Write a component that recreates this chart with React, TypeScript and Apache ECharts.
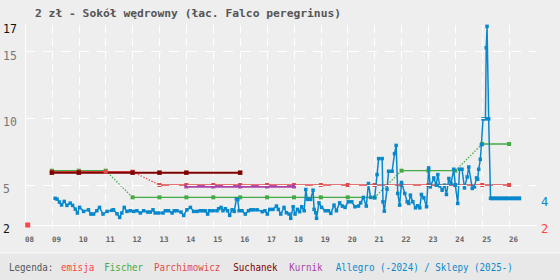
import React, { useEffect, useRef } from "react";
import * as echarts from "echarts";

// ---------- data ----------
const emisjaYears = [2008.1];
const emisjaValues = [2];

const fischerYears = [2009, 2010, 2011, 2012, 2013, 2014, 2015, 2016, 2017, 2018, 2019, 2020, 2021, 2022, 2023, 2024, 2025, 2026];
const fischerValues = [6, 6, 6, 4, 4, 4, 4, 4, 4, 4, 4, 4, 4, 6, 6, 6, 8, 8];

const parchYears = [2009, 2010, 2011, 2012, 2013, 2014, 2015, 2016, 2017, 2018, 2019, 2020, 2021, 2022, 2023, 2024, 2025, 2026];
const parchValues = [6, 6, 6, 6, 5, 5, 5, 5, 5, 5, 5, 5, 5, 5, 5, 5, 5, 5];

const suchanekYears = [2009, 2010, 2012, 2013, 2014, 2016];
const suchanekValues = [6, 6, 6, 6, 6, 6];

const kurnikYears = [2014, 2015, 2016, 2017, 2018];
const kurnikValues = [5, 5, 5, 5, 5];

const allegroYears = [
  2009.12, 2009.19, 2009.28, 2009.36, 2009.46, 2009.56, 2009.68, 2009.77, 2009.87, 2009.95,
  2010.03, 2010.18, 2010.36, 2010.45, 2010.55, 2010.67, 2010.77, 2010.9, 2011.05, 2011.23,
  2011.29, 2011.42, 2011.52, 2011.6, 2011.69, 2011.79, 2011.91, 2012.04, 2012.16, 2012.29,
  2012.41, 2012.56, 2012.66, 2012.76, 2012.84, 2012.97, 2013.13, 2013.22, 2013.34, 2013.47,
  2013.55, 2013.65, 2013.8, 2013.9, 2014.02, 2014.15, 2014.27, 2014.4, 2014.52, 2014.62,
  2014.7, 2014.79, 2014.86, 2014.99, 2015.14, 2015.2, 2015.29, 2015.36, 2015.45, 2015.53,
  2015.61, 2015.7, 2015.78, 2015.86, 2015.91, 2015.96, 2016.07, 2016.19, 2016.31, 2016.4,
  2016.5, 2016.63, 2016.82, 2016.92, 2017.01, 2017.1, 2017.22, 2017.35, 2017.42, 2017.51,
  2017.63, 2017.72, 2017.82, 2017.88, 2017.97, 2018.04, 2018.13, 2018.21, 2018.29, 2018.38,
  2018.44, 2018.5, 2018.62, 2018.71, 2018.75, 2018.81, 2018.84, 2018.93, 2019.03, 2019.16,
  2019.28, 2019.37, 2019.49, 2019.58, 2019.7, 2019.8, 2019.9, 2020.02, 2020.15, 2020.27,
  2020.4, 2020.48, 2020.58, 2020.69, 2020.77, 2020.85, 2021.0, 2021.09, 2021.15, 2021.28,
  2021.31, 2021.36, 2021.46, 2021.52, 2021.65, 2021.74, 2021.8, 2021.86, 2021.93, 2022.0,
  2022.12, 2022.21, 2022.27, 2022.33, 2022.42, 2022.52, 2022.6, 2022.68, 2022.74, 2022.83,
  2022.93, 2023.01, 2023.07, 2023.2, 2023.29, 2023.35, 2023.42, 2023.51, 2023.6, 2023.67,
  2023.76, 2023.84, 2023.94, 2024.0, 2024.09, 2024.16, 2024.25, 2024.34, 2024.44, 2024.5,
  2024.63, 2024.71, 2024.79, 2024.83, 2024.87, 2024.93, 2024.97, 2025.03, 2025.12, 2025.15,
  2025.18, 2025.24, 2025.31,
];
const allegroValues = [
  4.0, 3.94, 3.72, 3.5, 3.77, 3.47, 3.64, 3.47, 3.19, 2.9,
  3.32, 3.02, 3.14, 2.82, 2.82, 3.07, 3.32, 2.82, 3.02, 3.1,
  3.14, 2.84, 2.57, 2.9, 3.32, 3.02, 3.07, 3.02, 3.07, 2.9,
  3.07, 2.97, 2.97, 3.14, 2.9, 2.9, 2.9, 3.07, 3.07, 2.9,
  3.07, 3.07, 2.97, 2.72, 3.14, 3.32, 3.02, 3.02, 3.07, 3.07,
  3.07, 2.82, 3.07, 3.07, 3.07, 3.22, 3.32, 3.07, 3.22, 3.07,
  2.72, 3.14, 3.02, 3.96, 3.9, 3.07, 3.07, 2.82, 3.07, 3.14,
  3.14, 3.14, 3.0, 3.07, 2.82, 3.17, 3.17, 3.42, 3.17, 2.82,
  3.32, 2.92, 2.82, 2.5, 3.37, 2.82, 3.17, 3.0, 3.37, 3.07,
  4.66, 3.92, 3.92, 4.61, 3.17, 2.92, 2.5, 3.66, 3.32, 3.07,
  3.07, 2.87, 3.49, 3.07, 3.66, 3.42, 3.32, 3.74, 3.74, 3.37,
  3.42, 3.66, 4.07, 3.42, 5.11, 4.07, 4.04, 5.78, 6.98, 6.98,
  3.74, 3.04, 4.69, 6.03, 6.03, 7.35, 7.97, 4.37, 3.49, 5.19,
  4.37, 3.74, 3.62, 4.24, 3.74, 3.29, 3.44, 3.29, 4.29, 4.04,
  3.37, 6.28, 4.86, 5.53, 4.99, 5.78, 4.93, 4.61, 4.99, 4.29,
  5.49, 5.11, 6.18, 4.99, 3.62, 6.18, 6.18, 4.78, 5.6, 6.35,
  4.74, 4.86, 5.53, 5.43, 6.18, 6.93, 8.02, 9.96, 9.96, 15.3,
  16.9, 9.96, 4.0,
];

const sklepyYears = [2025.31, 2026.45];
const sklepyValues = [4, 4];

const xTickYears = [2008, 2027];
const yLabelValues = [2, 5, 10, 15, 17];
const yGridValues = [5, 10, 15];

// ---------- styling ----------
const MONO = '"DejaVu Sans Mono", monospace';
const C = {
  emisja: "#ff4444",
  fischer: "#44aa44",
  parch: "#e24a4a",
  suchanek: "#800000",
  kurnik: "#aa44aa",
  allegro: "#0888cc",
  text: "#555555",
};
// per-series vertical pixel nudge (the original draws overlapping series 1px apart)
const UNIT_PX = 200 / 15;
const nudge = (px: number) => -px / UNIT_PX;

function build(xs: number[], vs: number[], dy: number) {
  const solid: any[] = [];
  const dotted: any[] = [];
  for (let i = 0; i < xs.length; i++) {
    const p = [xs[i], vs[i] + dy];
    if (i > 0 && vs[i] !== vs[i - 1]) {
      solid.push([(xs[i] + xs[i - 1]) / 2, "-"]);
      dotted.push([xs[i - 1], vs[i - 1] + dy], p, [xs[i], "-"]);
    }
    solid.push(p);
  }
  return { solid, dotted };
}

function pairs(xs: number[], vs: number[], dy = 0) {
  return xs.map((x, i) => [x, vs[i] + dy]);
}

function stepSeries(name: string, xs: number[], vs: number[], dy: number, color: string, width: number, size: number) {
  const b = build(xs, vs, dy);
  return [
    {
      name: name + "-d",
      type: "line",
      data: b.dotted,
      showSymbol: false,
      symbol: "none",
      lineStyle: { color, width: 1.2, type: [1.5, 1.5] },
      silent: true,
      z: 3,
    },
    {
      name,
      type: "line",
      data: b.solid,
      symbol: "rect",
      symbolSize: size,
      showAllSymbol: true,
      itemStyle: { color },
      lineStyle: { color, width },
      silent: true,
      z: 3,
    },
  ];
}

export default function App() {
  const ref = useRef<HTMLDivElement>(null);
  useEffect(() => {
    const chart = echarts.init(ref.current!, null, { renderer: "svg" });
    const option: any = {
      animation: false,
      backgroundColor: "#eeeeee",
      grid: { left: 25, right: 24, top: 25, bottom: 55, containLabel: false, outerBoundsMode: "none" },
      xAxis: {
        type: "value",
        min: xTickYears[0],
        max: xTickYears[1],
        interval: 1,
        axisLine: { show: true, lineStyle: { color: "#ffffff", width: 1 } },
        axisTick: { show: true, length: 3, lineStyle: { color: "#ffffff" } },
        splitLine: {
          show: true,
          showMinLine: false,
          showMaxLine: false,
          lineStyle: { color: "#ffffff", type: [8, 5], width: 1 },
        },
        axisLabel: {
          formatter: (v: number) => String(v).slice(2),
          showMaxLabel: false,
          margin: 10,
          padding: [0, 0, 0, 9],
          color: "#666666",
          fontSize: 7.5,
          fontWeight: "bold",
          fontFamily: MONO,
        },
      },
      yAxis: {
        type: "value",
        min: 2,
        max: 17,
        axisLine: { show: true, lineStyle: { color: "#ffffff", width: 1 } },
        axisTick: { show: false },
        splitLine: { show: false },
        axisLabel: {
          customValues: yLabelValues,
          align: "left",
          margin: 22,
          padding: [8, 0, 0, 0],
          formatter: (v: number) => (v === 2 || v === 17 ? `{k|${v}}` : `{g|${v}}`),
          rich: {
            k: { color: "#111111", fontSize: 11.5, fontFamily: MONO },
            g: { color: "#777777", fontSize: 11.5, fontFamily: MONO },
          },
        },
      },
      series: [
        {
          name: "emisja",
          type: "line",
          data: pairs(emisjaYears, emisjaValues),
          symbol: "rect",
          symbolSize: 5,
          itemStyle: { color: C.emisja },
          lineStyle: { width: 0 },
          silent: true,
          z: 1,
          markLine: {
            silent: true,
            animation: false,
            symbol: ["none", "none"],
            label: { show: false },
            lineStyle: { color: "#ffffff", type: [10, 8], width: 1 },
            data: yGridValues.map((v) => ({ yAxis: v })),
          },
        },
        ...stepSeries("Fischer", fischerYears, fischerValues, nudge(-1), C.fischer, 1.3, 4),
        ...stepSeries("Parchimowicz", parchYears, parchValues, 0, C.parch, 1.3, 4),
        ...stepSeries("Kurnik", kurnikYears, kurnikValues, nudge(1.5), C.kurnik, 2.5, 4),
        ...stepSeries("Suchanek", suchanekYears, suchanekValues, nudge(1), C.suchanek, 2, 4.5),
        {
          name: "Allegro",
          type: "line",
          data: pairs(allegroYears, allegroValues),
          symbol: "rect",
          symbolSize: 3.5,
          showAllSymbol: true,
          itemStyle: { color: C.allegro },
          lineStyle: { color: C.allegro, width: 1.5 },
          silent: true,
          z: 4,
        },
        {
          name: "Sklepy",
          type: "line",
          data: pairs(sklepyYears, sklepyValues),
          showSymbol: false,
          symbol: "none",
          lineStyle: { color: C.allegro, width: 4, cap: "butt" },
          silent: true,
          z: 4,
        },
      ],
    };
    chart.setOption(option);

    const yOf = (v: number) => chart.convertToPixel({ yAxisIndex: 0 }, v) as number;
    const txt = (text: string, x: number, y: number, color: string, size: number, weight = "normal", sx = 1, align = "left") => ({
      type: "text",
      x,
      y,
      scaleX: sx,
      silent: true,
      style: {
        text,
        fill: color,
        fontSize: size,
        fontWeight: weight,
        fontFamily: MONO,
        align,
        verticalAlign: "middle",
        textAlign: align,
        textVerticalAlign: "middle",
      },
    });
    const LSX = 0.837;
    chart.setOption({
      graphic: [
        { type: "rect", shape: { x: 0, y: 252, width: 560, height: 1.5 }, style: { fill: "#f8f8f8" }, silent: true },
        { type: "rect", shape: { x: 0, y: 253.5, width: 560, height: 27 }, style: { fill: "#e8e8e8" }, silent: true },
        txt("2 zł - Sokół wędrowny (łac. Falco peregrinus)", 35, 13.5, C.text, 11.3, "bold"),
        txt("Legenda:", 9, 267, C.text, 11, "normal", LSX),
        txt("emisja", 61, 267, C.emisja, 11, "normal", LSX),
        txt("Fischer", 104.3, 267, C.fischer, 11, "normal", LSX),
        txt("Parchimowicz", 154, 267, C.parch, 11, "normal", LSX),
        txt("Suchanek", 233.3, 267, C.suchanek, 11, "normal", LSX),
        txt("Kurnik", 289.3, 267, C.kurnik, 11, "normal", LSX),
        txt("Allegro (-2024) / Sklepy (2025-)", 335.7, 267, C.allegro, 11, "normal", LSX),
        txt(String(sklepyValues[sklepyValues.length - 1]), 544.5, yOf(sklepyValues[sklepyValues.length - 1]) + 4, C.allegro, 12, "normal", 1, "center"),
        txt(String(emisjaValues[0]), 544.5, yOf(emisjaValues[0]) + 4, C.emisja, 12, "normal", 1, "center"),
      ],
    });
    return () => chart.dispose();
  }, []);
  return <div ref={ref} style={{ position: "fixed", left: 0, top: 0, width: 560, height: 280 }} />;
}
